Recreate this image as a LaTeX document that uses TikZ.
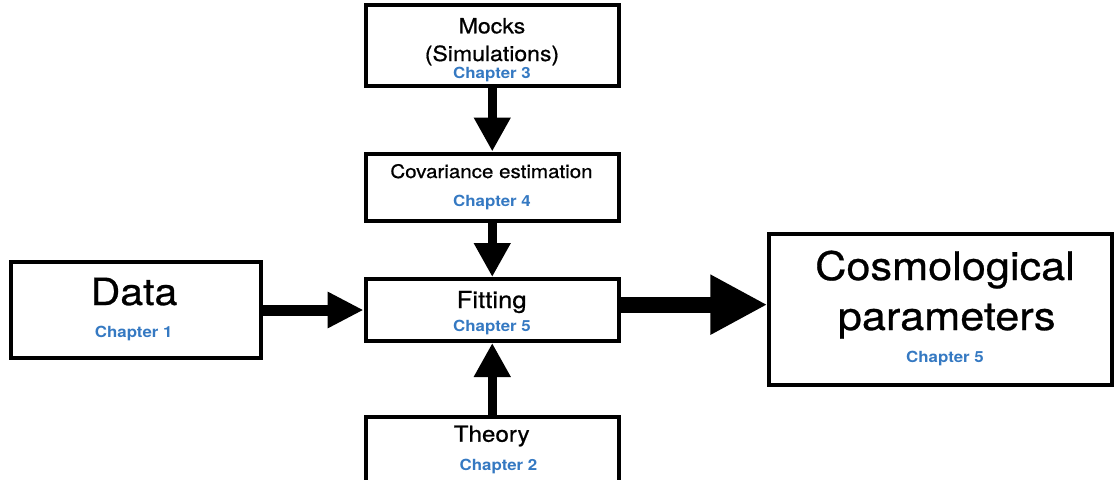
\documentclass[tikz,border=0pt]{standalone}
\usepackage{fontspec}
\setmainfont{TeX Gyre Heros}[FakeStretch=1.1, UprightFeatures={FakeBold=0.7}]
\usepackage{tikz}
\usepackage{xcolor}
\usetikzlibrary{arrows.meta}
\definecolor{chapblue}{HTML}{3579C2}

\begin{document}
\begin{tikzpicture}[x=0.75pt, y=-0.75pt,
    box/.style={draw, line width=3pt, minimum width=190pt},
    heading/.style={anchor=base, font=\fontsize{#1}{#1}\selectfont},
    chap/.style={anchor=base, text=chapblue, font=\fontsize{11.5}{12}\selectfont\bfseries},
    fat/.style={line width=7pt, -{Triangle[length=25.5pt, width=26pt]}}]
    \useasboundingbox (0,0) rectangle (1114,479);
    \clip (0,0) rectangle (1114,479);

    % boxes
    \node[box, minimum height=60.4pt] (mocks) at (492.25, 45.25) {};
    \node[box, minimum height=50.25pt] (cov) at (492.25, 187) {};
    \node[box, minimum height=46.5pt] (fit) at (492.25, 310) {};
    \node[box, minimum height=52.5pt] (theory) at (492.25, 452) {};
    \node[box, minimum width=187.5pt, minimum height=72pt] (data) at (135.5, 310) {};
    \node[box, minimum width=257pt, minimum height=113.25pt] (cosmo) at (940.75, 309.5) {};

    % texts
    \node[heading=15.7] (mocks-t1) at (492, 33.3) {Mocks};
    \node[heading=15.7] (mocks-t2) at (492, 61) {(Simulations)};
    \node[chap] (mocks-ch) at (492, 78) {Chapter 3};

    \node[heading=14] (cov-t) at (491.5, 178) {Covariance estimation};
    \node[chap] (cov-ch) at (492, 206) {Chapter 4};

    \node[heading=17.5] (fit-t) at (491.7, 308) {Fitting};
    \node[chap] (fit-ch) at (492, 331) {Chapter 5};

    \node[heading=16.5] (theory-t) at (491.7, 441.7) {Theory};
    \node[chap] (theory-ch) at (498.5, 470) {Chapter 2};

    \node[heading=28] (data-t) at (134, 305) {Data};
    \node[chap] (data-ch) at (133.7, 337) {Chapter 1};

    \node[heading=29.5] (cosmo-t1) at (945, 280) {Cosmological};
    \node[heading=29.5] (cosmo-t2) at (946.7, 330) {parameters};
    \node[chap] (cosmo-ch) at (945, 362) {Chapter 5};

    % arrows
    \draw[fat] (mocks) -- (cov);
    \draw[fat] (cov) -- (fit);
    \draw[fat] (theory) -- (fit);
    \draw[fat, line width=8.25pt, -{Triangle[length=27pt, width=25.5pt]}] (data) -- (fit);
    \draw[fat, line width=12pt, -{Triangle[length=42.75pt, width=42pt]}]
        ([yshift=4pt]fit.east) -- ([yshift=4pt]fit.east -| cosmo.west);
\end{tikzpicture}
\end{document}
